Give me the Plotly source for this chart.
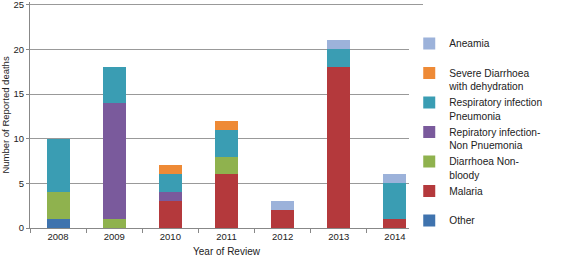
import plotly.graph_objects as go

years = ["2008", "2009", "2010", "2011", "2012", "2013", "2014"]
other = [1, 0, 0, 0, 0, 0, 0]
malaria = [0, 0, 3, 6, 2, 18, 1]
diarrhoea = [3, 1, 0, 2, 0, 0, 0]
non_pneumonia = [0, 13, 1, 0, 0, 0, 0]
pneumonia = [6, 4, 2, 3, 0, 2, 4]
severe = [0, 0, 1, 1, 0, 0, 0]
anaemia = [0, 0, 0, 0, 1, 1, 1]

series = [
    ("Other<br>\u00a0", other, "#3F73AE"),
    ("Malaria<br>\u00a0", malaria, "#B4393C"),
    ("Diarrhoea Non-<br>bloody", diarrhoea, "#8FB24E"),
    ("Repiratory infection-<br>Non Pnuemonia", non_pneumonia, "#7A5A9C"),
    ("Respiratory infection<br>Pneumonia", pneumonia, "#3A9DB3"),
    ("Severe Diarrhoea<br>with dehydration", severe, "#EE8A36"),
    ("Aneamia<br>\u00a0", anaemia, "#9CB2DA"),
]

fig = go.Figure()
for name, vals, col in series:
    fig.add_trace(go.Bar(x=years, y=vals, name=name, marker=dict(color=col, line=dict(width=0))))

fig.update_layout(
    barmode="stack",
    bargap=0.59,
    width=565, height=257,
    margin=dict(l=30, r=142, t=2, b=29, autoexpand=False),
    paper_bgcolor="white", plot_bgcolor="white",
    font=dict(family="Liberation Sans, Arial, sans-serif", size=10, color="#222"),
    legend=dict(traceorder="reversed", x=0.965, xanchor="left", y=0.875, yanchor="top",
                valign="top", font=dict(size=10.2), itemwidth=30, tracegroupgap=0),
    xaxis=dict(title=dict(text="Year of Review", font=dict(size=10), standoff=6),
               showline=True, linecolor="#888", ticks="outside", tickson="boundaries",
               ticklen=4, tickcolor="#888", tickfont=dict(size=9.5), automargin=False),
    yaxis=dict(title=dict(text="Number of Reported deaths", font=dict(size=9.5), standoff=4),
               range=[0, 25.3], tickvals=[0, 5, 10, 15, 20, 25], showgrid=True,
               gridcolor="#999", gridwidth=1, ticklabeloverflow="allow",
               showline=True, linecolor="#888", ticks="outside", ticklen=3, tickcolor="#888",
               tickfont=dict(size=9.5), zeroline=False, automargin=False),
)

fig.write_html("out.html", config={"displayModeBar": False},
               post_script="document.body.style.margin='0';document.body.style.overflow='hidden';")
